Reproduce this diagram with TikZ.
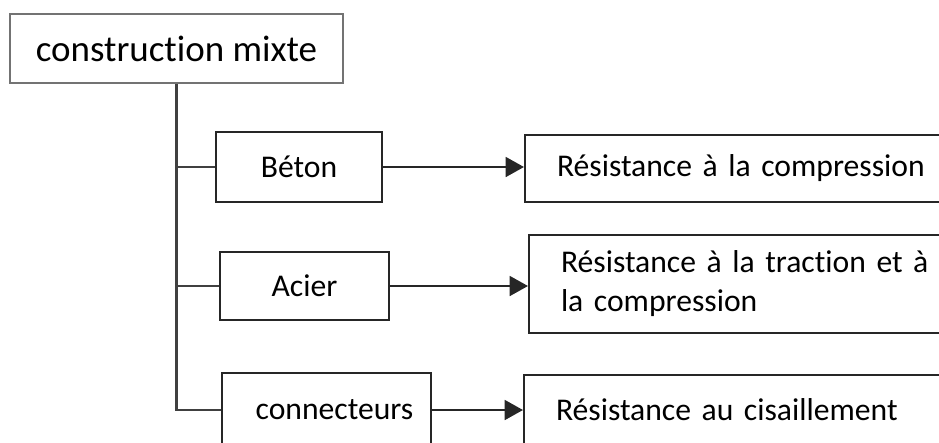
\documentclass[tikz,border=0pt]{standalone}
\usepackage{fontspec}
\setmainfont[RawFeature={-liga;-calt;-clig;-dlig}]{Carlito}
\usetikzlibrary{arrows.meta}

\tikzset{
  mainbox/.style={draw=black!55, line width=2pt, minimum width=8.325cm, minimum height=1.725cm,
    inner sep=0pt, font=\fontsize{26.3}{30}\selectfont},
  partbox/.style={draw=black!85, line width=1.4pt, minimum height=1.75cm, inner sep=0pt,
    font=\fontsize{22.5}{27.7}\selectfont},
  resultbox/.style={draw=black!85, line width=1.4pt, anchor=west, inner xsep=0.8cm, inner ysep=0pt,
    text width=9.5cm, align=left, font=\fontsize{22.5}{27.7}\selectfont},
  trunk/.style={black!75, line width=1.8pt},
  arrowline/.style={black!85, line width=1.8pt, -{Triangle[length=13pt,width=14pt]}}
}

\begin{document}
\begin{tikzpicture}[x=0.025cm,y=-0.025cm]
  \useasboundingbox (0,0) rectangle (939,442);
  \clip (0,0) rectangle (939,442);

  \node[mainbox] (mixte) at (176.5,48.5) {construction mixte};

  \node[partbox, minimum width=4.15cm] (beton) at (299,167) {Béton};
  \node[partbox, minimum width=4.225cm, minimum height=1.7cm] (acier) at (304.5,286) {Acier\hspace{0.35cm}};
  \node[partbox, minimum width=5.225cm, minimum height=1.85cm] (conn) at (326.5,410) {\hspace{0.4cm}connecteurs};

  \node[resultbox, minimum height=1.675cm] (resbeton) at (524,168.5) {Résistance à la compression};
  \node[resultbox, minimum height=2.45cm] (resacier) at (528,284) {Résistance à la traction et à\\ la compression};
  \node[resultbox, minimum height=1.75cm] (resconn) at (523,410) {Résistance au cisaillement};

  %% tree on the left
  \draw[trunk] (mixte.south) |- (conn.west);
  \draw[trunk] (mixte.south |- beton.west) -- (beton.west);
  \draw[trunk] (mixte.south |- acier.west) -- (acier.west);

  %% arrows to the results
  \draw[arrowline] (beton.east) -- (beton.east -| resbeton.west);
  \draw[arrowline] (acier.east) -- (acier.east -| resacier.west);
  \draw[arrowline] (conn.east) -- (conn.east -| resconn.west);
\end{tikzpicture}
\end{document}
